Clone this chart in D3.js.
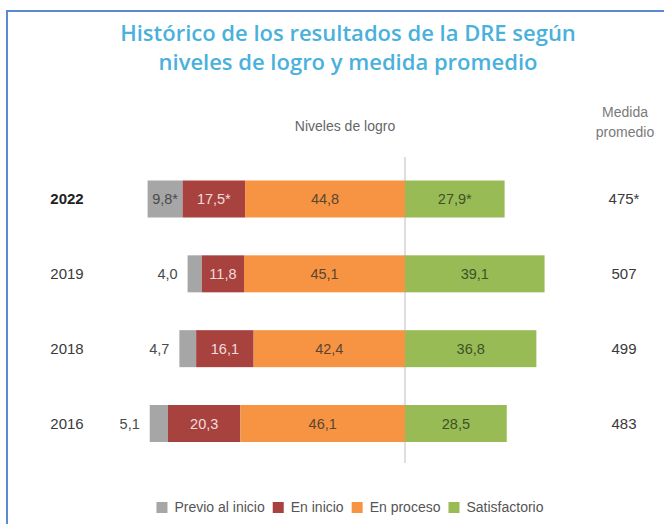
<!DOCTYPE html>
<html>
<head>
<meta charset="utf-8">
<script src="https://cdn.jsdelivr.net/npm/d3@7"></script>
<style>
  body { margin: 0; background: #fff; }
  svg { display: block; }
</style>
</head>
<body>
<svg id="chart"></svg>
<script>
// data
const years = ["2022", "2019", "2018", "2016"]
const previo = [9.8, 4.0, 4.7, 5.1]
const inicio = [17.5, 11.8, 16.1, 20.3]
const proceso = [44.8, 45.1, 42.4, 46.1]
const satisfactorio = [27.9, 39.1, 36.8, 28.5]
const medida = [475, 507, 499, 483]
// asterisks: [previo, inicio, proceso, satisfactorio, medida] per year
const stars = [
    [true, true, false, true, true],
    [false, false, false, false, false],
    [false, false, false, false, false],
    [false, false, false, false, false],
]

const levels = ["Previo al inicio", "En inicio", "En proceso", "Satisfactorio"]
const colors = ["#a6a6a6", "#a7423f", "#f79443", "#98bb55"]
const text_colors = ["#4a4a4a", "#f3dcdc", "#5a4630", "#3f5128"]

const width = 664
const height = 524
const bar_h = 37
const font = "'Liberation Sans', Arial, sans-serif"

const svg = d3.select("#chart")
    .attr("width", width)
    .attr("height", height)

// frame
svg.append("path")
    .attr("d", `M7,${height + 5} L7,11 L${width + 5},11`)
    .attr("fill", "none")
    .attr("stroke", "#5a8ad2")
    .attr("stroke-width", 2)

// title, one text per line
const title_lines = ["Histórico de los resultados de la DRE según", "niveles de logro y medida promedio"]
svg.selectAll("text.title")
    .data(title_lines)
    .enter()
    .append("text")
    .attr("class", "title")
    .attr("x", 348)
    .attr("y", (d, i) => 41 + i * 29)
    .attr("text-anchor", "middle")
    .attr("font-family", "'Open Sans', sans-serif")
    .attr("font-weight", 600)
    .attr("font-size", "22px")
    .attr("fill", "#49b1dc")
    .text(d => d)

// scales
const x = d3.scaleLinear()
    .domain([-80, 50])
    .range([405 - 80 * 3.57, 405 + 50 * 3.57])

const y = d3.scalePoint()
    .domain(years)
    .range([199, 423.5])

const fmt = v => d3.format(".1f")(v).replace(".", ",")

// headers
svg.append("text")
    .attr("x", 345).attr("y", 131)
    .attr("text-anchor", "middle")
    .attr("font-family", font)
    .attr("font-size", "14px")
    .attr("fill", "#666")
    .text("Niveles de logro")

const med_head = svg.append("text")
    .attr("text-anchor", "middle")
    .attr("font-family", font)
    .attr("font-size", "14px")
    .attr("fill", "#7a7a7a")
med_head.append("tspan").attr("x", 625).attr("y", 117).text("Medida")
med_head.append("tspan").attr("x", 625).attr("y", 137).text("promedio")

// divider at zero
svg.append("line")
    .attr("x1", x(0)).attr("x2", x(0))
    .attr("y1", 157).attr("y2", 463)
    .attr("stroke", "#c8c8c8")
    .attr("stroke-width", 1.2)

// build segments, negative levels stacked to the left of zero
const rows = years.map(function(year, i) {
    const vals = [previo[i], inicio[i], proceso[i], satisfactorio[i]]
    const neg = vals[0] + vals[1] + vals[2]
    const segs = [
        { k: 0, x0: -neg, x1: -(vals[1] + vals[2]) },
        { k: 1, x0: -(vals[1] + vals[2]), x1: -vals[2] },
        { k: 2, x0: -vals[2], x1: 0 },
        { k: 3, x0: 0, x1: vals[3] },
    ]
    segs.forEach(s => { s.v = vals[s.k]; s.year = year; s.star = stars[i][s.k] })
    return { year: year, i: i, segs: segs }
})

const row_g = svg.selectAll("g.row")
    .data(rows)
    .enter()
    .append("g")
    .attr("class", "row")

row_g.selectAll("rect")
    .data(d => d.segs)
    .enter()
    .append("rect")
    .attr("x", d => x(d.x0))
    .attr("width", d => x(d.x1) - x(d.x0))
    .attr("y", d => y(d.year) - bar_h / 2)
    .attr("height", bar_h)
    .attr("fill", d => colors[d.k])

row_g.selectAll("text.val")
    .data(d => d.segs)
    .enter()
    .append("text")
    .attr("class", "val")
    .attr("font-family", font)
    .attr("font-size", "14.5px")
    .attr("dy", "0.35em")
    .attr("y", d => y(d.year))
    .each(function(d) {
        const inside = (x(d.x1) - x(d.x0)) > 28
        const t = d3.select(this)
        if (inside) {
            t.attr("x", (x(d.x0) + x(d.x1)) / 2)
                .attr("text-anchor", "middle")
                .attr("fill", text_colors[d.k])
        } else {
            t.attr("x", x(d.x0) - 10)
                .attr("text-anchor", "end")
                .attr("fill", "#4a4a4a")
        }
        t.text(fmt(d.v) + (d.star ? "*" : ""))
    })

// year labels
row_g.append("text")
    .attr("x", 67)
    .attr("y", d => y(d.year))
    .attr("dy", "0.35em")
    .attr("text-anchor", "middle")
    .attr("font-family", font)
    .attr("font-size", "15px")
    .attr("font-weight", d => d.i === 0 ? "bold" : "normal")
    .attr("fill", d => d.i === 0 ? "#222" : "#3a3a3a")
    .text(d => d.year)

// medida promedio
row_g.append("text")
    .attr("x", 624)
    .attr("y", d => y(d.year))
    .attr("dy", "0.35em")
    .attr("text-anchor", "middle")
    .attr("font-family", font)
    .attr("font-size", "15px")
    .attr("fill", "#3a3a3a")
    .text(d => medida[d.i] + (stars[d.i][4] ? "*" : ""))

// legend
const legend = svg.append("g")
let lx = 0
levels.forEach(function(name, k) {
    const item = legend.append("g").attr("transform", `translate(${lx},0)`)
    item.append("rect")
        .attr("x", 0).attr("y", -5)
        .attr("width", 11).attr("height", 11)
        .attr("fill", colors[k])
    const t = item.append("text")
        .attr("x", 18).attr("y", 0)
        .attr("dy", "0.35em")
        .attr("font-family", font)
        .attr("font-size", "14px")
        .attr("fill", "#555")
        .text(name)
    lx += 18 + t.node().getComputedTextLength() + 8
})
legend.attr("transform", `translate(${350 - (lx - 8) / 2},507)`)
</script>
</body>
</html>
